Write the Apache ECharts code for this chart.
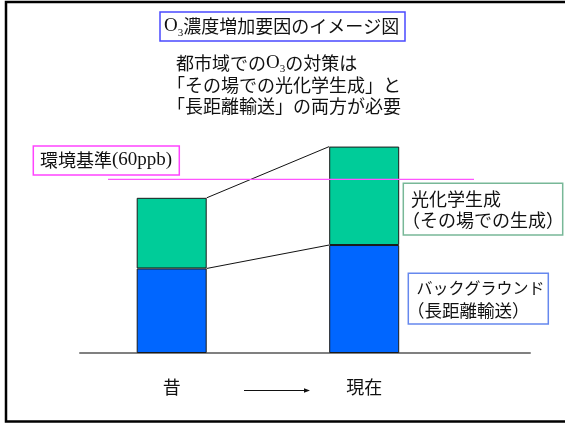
<!DOCTYPE html>
<html>
<head>
<meta charset="utf-8">
<script src="https://cdn.jsdelivr.net/npm/echarts@6/dist/echarts.min.js"></script>
<style>
  html, body { margin: 0; padding: 0; background: #fff; }
  #chart { width: 565px; height: 424px; }
</style>
</head>
<body>
<div id="chart"></div>
<script>
// O3 concentration (ppb): background (long-range transport) + local photochemical production
const categories = ['昔', '現在'];
const background = [29.2, 37.3];
const photochem = [24.4, 34.0];
const standardPpb = 60;
const standardSpan = [28, 394]; // horizontal extent of the standard line on the baseline axis

const JP = '"Noto Sans CJK JP", sans-serif';
const SERIF = '"Liberation Serif", serif';
const BAR_W = 70;

const totals = background.map((v, i) => v + photochem[i]);
const connectors = [
  [0, totals[0], 1, totals[1]],
  [0, background[0], 1, background[1]]
];

function txt(x, y, text, size, extra) {
  return Object.assign({
    type: 'text', x: x, y: y, z: 20,
    style: {
      text: text, fill: '#111', font: size + 'px ' + JP,
      verticalAlign: 'middle', textVerticalAlign: 'middle'
    }
  }, extra || {});
}
function box(x, y, w, h, stroke) {
  return {
    type: 'rect', z: 19,
    shape: { x: x, y: y, width: w, height: h },
    style: { fill: '#fff', stroke: stroke, lineWidth: 1.5 }
  };
}
// "O" + subscript "3" mixed with Japanese text
const richO3 = (size) => ({
  o: { fontFamily: SERIF, fontSize: size + 1, fill: '#111', verticalAlign: 'middle', lineHeight: size + 6 },
  s: { fontFamily: SERIF, fontSize: Math.round(size * 0.6), fill: '#111', verticalAlign: 'bottom' },
  j: { fontFamily: JP, fontSize: size, fill: '#111', verticalAlign: 'middle', lineHeight: size + 6 }
});
function richTxt(x, y, text, rich) {
  return {
    type: 'text', x: x, y: y, z: 20,
    style: { text: text, rich: rich, verticalAlign: 'middle', textVerticalAlign: 'middle' }
  };
}

const chart = echarts.init(document.getElementById('chart'));
chart.setOption({
  animation: false,
  backgroundColor: '#fff',
  grid: [
    { left: 75.45, width: 385, top: 121.4, bottom: 71 },
    { left: 80, width: 450, top: 121.4, bottom: 71 }
  ],
  xAxis: [
    {
      type: 'category', gridIndex: 0, data: categories,
      axisLine: { show: false }, axisTick: { show: false },
      axisLabel: { fontFamily: JP, fontSize: 18, color: '#111', margin: 25 }
    },
    {
      type: 'value', gridIndex: 1, min: 0, max: 450,
      axisLine: { show: true, lineStyle: { color: '#808080', width: 2 } },
      axisTick: { show: false }, axisLabel: { show: false }, splitLine: { show: false }
    }
  ],
  yAxis: [
    { type: 'value', gridIndex: 0, min: 0, max: 80, show: false },
    { type: 'value', gridIndex: 1, min: 0, max: 80, show: false }
  ],
  series: [
    {
      name: 'バックグラウンド', type: 'bar', stack: 'o3', barWidth: BAR_W,
      data: background,
      itemStyle: { color: '#0066ff', borderColor: '#1a1a1a', borderWidth: 1 }
    },
    {
      name: '光化学生成', type: 'bar', stack: 'o3', barWidth: BAR_W,
      data: photochem,
      itemStyle: { color: '#00cc99', borderColor: '#1a1a1a', borderWidth: 1 }
    },
    {
      type: 'custom', xAxisIndex: 0, yAxisIndex: 0, z: 4,
      data: connectors,
      encode: { x: [0, 2], y: [1, 3] },
      renderItem: function (params, api) {
        const a = api.coord([api.value(0), api.value(1)]);
        const b = api.coord([api.value(2), api.value(3)]);
        return {
          type: 'line',
          shape: { x1: a[0] + BAR_W / 2, y1: a[1], x2: b[0] - BAR_W / 2, y2: b[1] },
          style: { stroke: '#111', lineWidth: 1 }
        };
      }
    },
    {
      type: 'custom', xAxisIndex: 1, yAxisIndex: 1, z: 6,
      data: [[standardSpan[0], standardSpan[1], standardPpb]],
      encode: { x: [0, 1], y: 2 },
      renderItem: function (params, api) {
        const a = api.coord([api.value(0), api.value(2)]);
        const b = api.coord([api.value(1), api.value(2)]);
        return {
          type: 'line',
          shape: { x1: a[0], y1: a[1], x2: b[0], y2: b[1] },
          style: { stroke: '#ff55ff', lineWidth: 1.2 }
        };
      }
    }
  ],
  graphic: [
    // slide frame
    {
      type: 'rect', z: 30, silent: true,
      shape: { x: 6, y: 2, width: 620, height: 419.5 },
      style: { fill: 'none', stroke: '#000', lineWidth: 2.5 }
    },
    // title
    box(160, 12, 245, 29, '#4a4aff'),
    richTxt(164, 26.5, '{o|O}{s|3}{j|濃度増加要因のイメージ図}', richO3(18)),
    // message
    richTxt(176, 63, '{j|都市域での}{o|O}{s|3}{j|の対策は}', richO3(18)),
    txt(167, 85, '「その場での光化学生成」と', 18),
    txt(167, 106.5, '「長距離輸送」の両方が必要', 18),
    // environmental standard
    box(33.3, 146, 146, 29, '#ff44ff'),
    richTxt(40, 160.5, '{j|環境基準}{o|(60ppb)}', {
      j: { fontFamily: JP, fontSize: 18, fill: '#111' },
      o: { fontFamily: SERIF, fontSize: 19, fill: '#111' }
    }),
    // photochemical production
    box(403.3, 183.3, 159.4, 51.7, '#78b898'),
    txt(411, 199, '光化学生成', 18),
    txt(402, 220.5, '（その場での生成）', 18),
    // background
    box(408.3, 273.3, 140, 50.7, '#6688ee'),
    txt(416.5, 288, 'バックグラウンド', 16),
    txt(407, 310.5, '（長距離輸送）', 17.5),
    // time arrow
    {
      type: 'line', z: 20,
      shape: { x1: 244, y1: 390.5, x2: 306, y2: 390.5 },
      style: { stroke: '#111', lineWidth: 1 }
    },
    {
      type: 'polygon', z: 20,
      shape: { points: [[310, 390.5], [304, 388.3], [304, 392.7]] },
      style: { fill: '#111' }
    }
  ]
});
</script>
</body>
</html>
